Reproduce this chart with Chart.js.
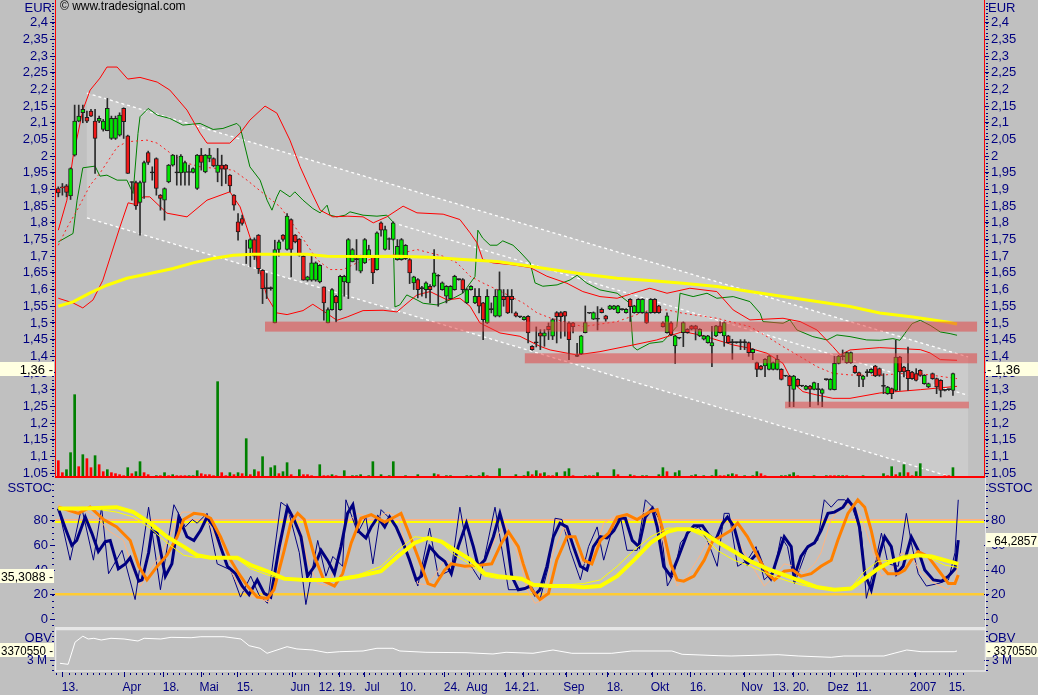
<!DOCTYPE html>
<html>
<head>
<meta charset="utf-8">
<script src="https://cdn.jsdelivr.net/npm/chart.js@4.4.0/dist/chart.umd.min.js"></script>
<style>
  body { margin: 0; background: #c0c0c0; width: 1038px; height: 695px; overflow: hidden; position: relative; }
  canvas { position: absolute; left: 0; }
</style>
</head>
<body>
<canvas id="mainChart" width="1038" height="478" style="top:0"></canvas>
<canvas id="stochChart" width="1038" height="151" style="top:478px"></canvas>
<canvas id="obvChart" width="1038" height="66" style="top:629px"></canvas>
<script>
// daily candles, bar index 0 = 13. Mrz 2006
const priceOpen = [
  1.903,1.908,1.911,1.881,2.003,2.105,2.130,2.116,2.135,2.105, 2.105,2.080,2.076,2.053,2.053,2.063,2.143,2.061,1.921,1.921,
  1.861,1.921,2.011,1.950,1.993,1.883,1.868,1.923,1.973,1.950, 1.950,1.951,1.951,1.951,1.903,2.003,1.953,1.993,1.993,1.951,
  1.973,1.973,1.943,1.883,1.803,1.813,1.703,1.723,1.750,1.763, 1.658,1.603,1.603,1.500,1.720,1.763,1.720,1.810,1.763,1.751,
  1.700,1.628,1.628,1.628,1.623,1.608,1.500,1.540,1.580,1.540, 1.623,1.620,1.683,1.690,1.655,1.680,1.700,1.700,1.660,1.800,
  1.720,1.750,1.750,1.690,1.690,1.693,1.690,1.620,1.630,1.603, 1.600,1.610,1.610,1.640,1.600,1.580,1.573,1.600,1.630,1.630,
  1.560,1.600,1.560,1.580,1.560,1.500,1.540,1.520,1.520,1.580, 1.580,1.580,1.530,1.518,1.510,1.520,1.430,1.440,1.470,1.460,
  1.490,1.460,1.531,1.531,1.534,1.500,1.500,1.400,1.407,1.471, 1.529,1.511,1.511,1.541,1.521,1.541,1.541,1.531,1.540,1.531,
  1.571,1.531,1.531,1.531,1.531,1.531,1.571,1.551,1.500,1.471, 1.500,1.431,1.454,1.471,1.481,1.491,1.491,1.461,1.451,1.441,
  1.431,1.461,1.491,1.461,1.461,1.441,1.441,1.441,1.441,1.441, 1.411,1.381,1.371,1.371,1.361,1.361,1.361,1.361,1.341,1.341,
  1.301,1.331,1.311,1.301,1.311,1.301,1.300,1.289,1.330,1.301, 1.300,1.379,1.399,1.381,1.381,1.371,1.351,1.331,1.351,1.351,
  1.371,1.363,1.310,1.288,1.303,1.298,1.398,1.368,1.358,1.353, 1.348,1.358,1.318,1.308,1.348,1.333,1.328,1.298,1.300,1.298
];
const priceHigh = [
  1.908,1.918,1.915,1.965,2.153,2.153,2.153,2.135,2.140,2.140, 2.120,2.110,2.173,2.120,2.120,2.130,2.145,2.063,1.923,1.925,
  1.925,1.985,2.015,1.968,1.995,1.885,1.905,1.975,2.005,2.003, 2.005,1.985,1.973,1.965,2.005,2.023,2.005,2.023,1.995,2.023,
  2.003,1.975,1.945,1.885,1.828,1.823,1.748,1.753,1.755,1.765, 1.660,1.648,1.608,1.748,1.748,1.765,1.828,1.812,1.765,1.753,
  1.703,1.640,1.700,1.683,1.675,1.608,1.545,1.603,1.583,1.643, 1.643,1.753,1.723,1.750,1.703,1.753,1.733,1.703,1.773,1.803,
  1.790,1.755,1.803,1.750,1.753,1.735,1.693,1.640,1.633,1.610, 1.623,1.615,1.720,1.645,1.623,1.612,1.612,1.643,1.632,1.633,
  1.603,1.612,1.603,1.603,1.562,1.600,1.560,1.600,1.653,1.600, 1.600,1.600,1.533,1.520,1.520,1.522,1.432,1.488,1.480,1.480,
  1.500,1.513,1.534,1.534,1.535,1.503,1.502,1.439,1.463,1.551, 1.530,1.533,1.549,1.545,1.523,1.553,1.553,1.553,1.542,1.543,
  1.573,1.553,1.573,1.573,1.533,1.573,1.573,1.553,1.503,1.530, 1.503,1.463,1.456,1.503,1.483,1.493,1.493,1.483,1.463,1.463,
  1.490,1.493,1.503,1.503,1.463,1.451,1.443,1.450,1.450,1.443, 1.423,1.383,1.373,1.393,1.403,1.383,1.403,1.363,1.343,1.343,
  1.343,1.333,1.313,1.313,1.313,1.323,1.319,1.303,1.332,1.333, 1.400,1.403,1.419,1.413,1.413,1.373,1.353,1.343,1.360,1.363,
  1.373,1.365,1.348,1.310,1.305,1.448,1.400,1.370,1.428,1.355, 1.363,1.360,1.345,1.320,1.350,1.335,1.330,1.300,1.302,1.350
];
const priceLow = [
  1.878,1.883,1.878,1.870,2.000,2.103,2.100,2.100,2.118,1.948, 2.100,2.075,2.076,2.050,2.050,2.060,2.053,1.948,1.868,1.840,
  1.763,1.873,1.975,1.928,1.883,1.838,1.808,1.920,1.970,1.913, 1.913,1.913,1.913,1.950,1.900,1.958,1.950,1.983,1.968,1.923,
  1.911,1.918,1.893,1.838,1.748,1.793,1.678,1.668,1.690,1.648, 1.558,1.573,1.598,1.500,1.700,1.745,1.718,1.638,1.740,1.700,
  1.628,1.625,1.625,1.625,1.620,1.508,1.500,1.538,1.503,1.538, 1.580,1.573,1.683,1.658,1.650,1.678,1.698,1.618,1.658,1.760,
  1.718,1.720,1.748,1.688,1.688,1.690,1.618,1.600,1.575,1.580, 1.575,1.560,1.608,1.550,1.598,1.560,1.570,1.598,1.628,1.590,
  1.558,1.598,1.558,1.530,1.450,1.498,1.530,1.518,1.518,1.550, 1.528,1.530,1.518,1.516,1.508,1.440,1.418,1.428,1.420,1.430,
  1.450,1.450,1.440,1.454,1.460,1.390,1.470,1.399,1.405,1.470, 1.528,1.510,1.479,1.530,1.505,1.540,1.540,1.529,1.538,1.529,
  1.504,1.529,1.529,1.529,1.498,1.529,1.529,1.529,1.487,1.469, 1.462,1.379,1.452,1.429,1.469,1.479,1.449,1.459,1.449,1.439,
  1.369,1.459,1.469,1.430,1.439,1.391,1.439,1.420,1.420,1.400, 1.390,1.339,1.359,1.339,1.359,1.359,1.359,1.329,1.339,1.249,
  1.249,1.309,1.309,1.299,1.249,1.299,1.254,1.249,1.328,1.299, 1.299,1.377,1.389,1.379,1.379,1.349,1.309,1.309,1.340,1.349,
  1.339,1.340,1.288,1.286,1.273,1.296,1.298,1.338,1.298,1.331, 1.326,1.340,1.316,1.306,1.331,1.288,1.278,1.296,1.298,1.283
];
const priceClose = [
  1.890,1.905,1.891,1.963,2.105,2.120,2.140,2.105,2.120,2.053, 2.113,2.105,2.143,2.113,2.113,2.123,2.103,1.948,1.921,1.851,
  1.921,1.981,1.981,1.950,1.903,1.873,1.903,1.973,2.003,1.950, 2.000,1.981,1.951,1.963,2.003,1.981,2.003,2.003,1.971,1.973,
  1.961,1.961,1.911,1.853,1.773,1.798,1.703,1.750,1.700,1.663, 1.603,1.603,1.603,1.720,1.743,1.750,1.820,1.720,1.743,1.703,
  1.628,1.638,1.680,1.680,1.673,1.560,1.540,1.600,1.560,1.640, 1.640,1.750,1.720,1.690,1.700,1.750,1.720,1.650,1.770,1.778,
  1.780,1.750,1.800,1.730,1.750,1.733,1.650,1.638,1.600,1.603, 1.620,1.600,1.650,1.640,1.620,1.610,1.610,1.640,1.630,1.600,
  1.600,1.610,1.580,1.550,1.510,1.580,1.540,1.580,1.600,1.570, 1.530,1.570,1.520,1.518,1.518,1.470,1.420,1.440,1.460,1.470,
  1.480,1.510,1.519,1.519,1.520,1.450,1.489,1.400,1.461,1.501, 1.529,1.531,1.511,1.531,1.511,1.551,1.551,1.551,1.540,1.541,
  1.549,1.551,1.571,1.571,1.500,1.571,1.531,1.531,1.489,1.521, 1.464,1.461,1.454,1.501,1.471,1.481,1.481,1.481,1.461,1.461,
  1.441,1.491,1.471,1.501,1.441,1.441,1.441,1.441,1.441,1.411, 1.421,1.361,1.361,1.391,1.401,1.381,1.391,1.331,1.341,1.311,
  1.341,1.311,1.311,1.311,1.301,1.321,1.300,1.300,1.330,1.331, 1.379,1.401,1.399,1.411,1.411,1.351,1.341,1.341,1.351,1.361,
  1.341,1.343,1.310,1.308,1.288,1.398,1.353,1.353,1.333,1.333, 1.328,1.343,1.343,1.318,1.333,1.308,1.298,1.298,1.300,1.348
];
// volume per bar and whether it counted as up (u) or down (d) volume
const volume = [
  49,13,22,73,247,31,67,55,28,64, 37,16,22,13,10,7,4,28,10,16, 46,13,7,0,4,4,13,4,7,4, 4,4,4,4,19,10,7,7,4,286,
  13,4,13,7,13,10,115,7,22,16, 61,0,28,34,10,16,43,7,0,22, 7,7,4,0,37,4,4,7,4,0, 19,0,4,4,7,0,4,46,0,7,
  0,4,46,0,0,4,0,0,7,0, 0,0,10,7,0,4,4,0,0,0, 4,4,0,4,13,4,0,0,25,0, 0,0,7,0,4,16,7,19,10,13,
  4,4,13,0,16,25,4,0,0,4, 4,4,13,0,0,0,22,7,0,0, 7,4,0,4,4,0,0,7,28,16, 0,13,19,0,0,4,7,0,4,0,
  4,22,4,4,7,10,7,0,4,0, 4,16,10,4,0,0,0,4,4,7, 13,4,0,0,0,4,0,0,4,4, 4,4,4,4,0,0,0,4,0,0,
  0,0,10,4,31,7,13,37,13,4, 16,40,0,0,0,0,0,4,4,28
];
const volDir = 'dduuududdu' + 'dduddddudu' + 'udduududud' + 'dduuuddddu' + 'ddudududud' +
  'uuuuduuduu' + 'ddduuddudu' + 'uuuuuuuuuu' + 'uuuuuuuuuu' + 'uuuduuuuuu' +
  'uuuuuduuuu' + 'uuuuuududu' + 'dduuuuduuu' + 'duuuuuuduu' + 'uduuuuuuud' +
  'uuuuuuuuuu' + 'uudduuduuu' + 'uudduuuuuu' + 'uduuuuuuud' + 'duuduuuuuu' +
  'uuududuudd' + 'uuuuuuuddu';

// indicator lines: [bar index, value]
const bbUpper = [[0,1.778],[2.1,1.868],[3.6,1.997],[6,2.138],[7.8,2.198],[10.2,2.234],[11.9,2.267],[14.4,2.267],[17,2.231],[20,2.236],[24.2,2.222],[27.3,2.198],[31.5,2.138],[34.7,2.069],[36.4,2.039],[42,2.039],[44.5,2.069],[46.9,2.108],[50.6,2.15],[53.5,2.129],[56.7,2.048],[59.2,1.968],[62.1,1.889],[64.1,1.838],[67.2,1.818],[70.7,1.82],[74.6,1.818],[77.1,1.80],[80.4,1.818],[84.4,1.85],[87.8,1.83],[94.2,1.826],[98.3,1.81],[100.8,1.77],[102.5,1.74],[103.9,1.69],[106.4,1.68],[111.3,1.674],[115.5,1.666],[119.6,1.64],[124.5,1.619],[128.4,1.594],[132.6,1.579],[136.8,1.574],[140.7,1.589],[144.8,1.604],[149,1.589],[154.6,1.604],[161.2,1.594],[165.2,1.539],[169.3,1.509],[177.4,1.514],[181.6,1.504],[185.7,1.479],[189.6,1.429],[191.4,1.404],[193.8,1.419],[201.1,1.426],[211,1.42],[213.4,1.41],[215.9,1.39],[220,1.388]];
const bbMid = [[0,1.733],[2.1,1.785],[4.6,1.838],[7.8,1.913],[10.2,1.949],[14.4,2.027],[16.8,2.043],[21.7,2.048],[24.2,2.039],[28.1,2.003],[31.5,1.979],[34.7,1.968],[42.8,1.958],[46.2,1.928],[50.1,1.889],[54.3,1.848],[58.4,1.78],[63.3,1.69],[66.5,1.66],[69.7,1.66],[73.1,1.68],[76.3,1.69],[80.4,1.70],[84.4,1.71],[87.8,1.72],[91,1.71],[94.2,1.70],[97.6,1.68],[100.8,1.64],[103.9,1.62],[107.4,1.60],[110.6,1.58],[113.8,1.56],[117.2,1.53],[120.4,1.515],[128.4,1.489],[136.8,1.504],[144.8,1.539],[149,1.539],[152.9,1.529],[161.2,1.514],[169.3,1.489],[173.5,1.459],[177.4,1.429],[181.6,1.399],[185.7,1.369],[189.6,1.349],[193.8,1.344],[201.1,1.343],[206,1.348],[211,1.348],[220,1.333]];
const bbLower = [[0,1.574],[3.6,1.56],[6,1.545],[8.5,1.569],[10.9,1.628],[15.1,1.788],[17.1,1.86],[19.3,1.854],[20.7,1.878],[22.4,1.878],[26.6,1.829],[31.5,1.818],[36.4,1.868],[42,1.893],[44.5,1.848],[47.7,1.728],[51.1,1.578],[53.5,1.53],[56,1.525],[59.9,1.537],[62.3,1.556],[65.8,1.528],[68.2,1.508],[70.7,1.518],[74.6,1.537],[79.5,1.538],[82.9,1.533],[84.4,1.549],[87.8,1.584],[91,1.594],[95.2,1.569],[98.3,1.574],[100.8,1.55],[103.2,1.50],[108.1,1.47],[113,1.46],[117.9,1.43],[120.4,1.419],[126.9,1.404],[132.6,1.414],[140.7,1.434],[146.5,1.449],[152.9,1.474],[157.1,1.464],[161.2,1.449],[165.2,1.434],[169.3,1.424],[173.5,1.409],[177.4,1.379],[179.9,1.319],[182.3,1.294],[185.7,1.284],[189.6,1.274],[193.8,1.274],[201.1,1.29],[211,1.30],[220,1.31]];
const greenLine = [[0,1.743],[3.6,1.768],[4.6,1.868],[6,1.965],[9,1.97],[10.2,1.94],[11.9,1.943],[14.4,1.928],[16.8,1.928],[18.3,1.888],[19.5,2.068],[20,2.118],[22,2.143],[24.2,2.123],[27.3,2.113],[30.5,2.093],[34.7,2.098],[37.9,2.08],[40.3,2.083],[43.7,2.098],[44.5,2.088],[46.9,1.968],[49.4,1.928],[51.1,1.868],[52.3,1.838],[53.5,1.878],[54.3,1.898],[56.7,1.878],[57.9,1.893],[59.9,1.868],[62.3,1.843],[64.1,1.83],[65.8,1.853],[66.5,1.823],[68.2,1.818],[70.2,1.823],[71.4,1.833],[74.6,1.823],[78,1.82],[80.4,1.823],[81.9,1.803],[82.4,1.548],[83.6,1.554],[85.3,1.584],[87.8,1.569],[89.3,1.559],[92.7,1.554],[95.9,1.569],[99,1.589],[102,1.639],[102.7,1.778],[103.9,1.754],[105.7,1.733],[107.4,1.733],[108.8,1.746],[111.3,1.733],[113,1.713],[115.5,1.68],[116.7,1.62],[118.6,1.61],[122.1,1.614],[125.3,1.629],[127,1.643],[129.4,1.619],[132.6,1.599],[136.8,1.589],[139.9,1.559],[140.7,1.429],[141.7,1.419],[144.8,1.439],[148,1.444],[151.4,1.489],[152.2,1.589],[155.4,1.579],[158.8,1.589],[161.2,1.574],[165.2,1.579],[169.3,1.564],[171.8,1.529],[172.5,1.504],[177.4,1.499],[179.1,1.509],[180.8,1.479],[184.7,1.459],[188.2,1.449],[190.6,1.464],[193.8,1.459],[197.9,1.449],[201.1,1.448],[204.3,1.453],[206,1.448],[207.2,1.468],[209,1.498],[211,1.508],[213.4,1.493],[215.9,1.473],[218.3,1.468],[220,1.463]];
const smaLine = [[0,1.55],[3.6,1.563],[7.8,1.59],[11.9,1.613],[16.8,1.634],[22.4,1.648],[28.1,1.663],[33,1.68],[37.9,1.693],[42.8,1.703],[47.7,1.706],[54.3,1.706],[60.9,1.706],[65.8,1.70],[74.6,1.699],[82.9,1.70],[91,1.697],[99,1.69],[107.4,1.684],[115.5,1.67],[120.4,1.661],[128.4,1.647],[136.8,1.634],[144.8,1.627],[152.9,1.619],[161.2,1.609],[169.3,1.594],[177.4,1.579],[185.7,1.564],[193.8,1.549],[201.1,1.53],[209.2,1.518],[217.5,1.503],[220,1.497]];

// trend channel and support zones
const channelTop = [[7.0, 2.189], [222.7, 1.398]];
const channelBottom = [[7.0, 1.815], [222.7, 1.023]];
const channelInner = [[82.0, 1.800], [222.7, 1.283]];
const supportZones = [
  { from: 50.6, to: 224.9, lo: 1.474, hi: 1.504 },
  { from: 114.2, to: 224.9, lo: 1.379, hi: 1.409 },
  { from: 177.9, to: 222.9, lo: 1.244, hi: 1.264 }
];

// slow stochastic
const stochKThin = [[0,91],[2.9,48],[5.7,91],[8.6,48],[10.6,91],[12.3,37],[15.6,56],[18.8,16],[22.1,91],[25,24],[28.3,93],[31.1,75],[32.8,81],[34,78],[36.4,86],[38.9,45],[42.2,40],[44.6,18],[47.1,35],[49.1,20],[51.2,13],[54.5,95],[56.1,91],[59,54],[60.6,12],[63.5,64],[65.5,35],[67.2,51],[69.6,43],[70.4,97],[73.3,70],[75.3,83],[77,45],[79,89],[82.3,78],[84.8,59],[88,27],[90.9,74],[93,35],[96.2,40],[98.3,91],[100.7,45],[103.2,32],[106.9,91],[110.2,24],[113.4,24],[115.5,27],[117.9,16],[120,43],[121.6,82],[123.3,81],[125.3,56],[127.8,32],[129.8,59],[131.9,75],[133.5,48],[136,78],[137.6,83],[139.2,56],[141.7,56],[143.7,97],[145.8,90],[147.4,78],[149.1,27],[150.7,37],[152.3,62],[154.8,72],[156.8,75],[158.9,64],[161.3,43],[163,86],[164.2,86],[166.3,43],[168.7,48],[170.8,59],[172.8,32],[175.3,40],[176.9,67],[178.5,59],[180.2,29],[183.5,59],[185.9,64],[187.5,97],[189.2,91],[190.8,97],[192.5,97],[194.1,93],[196.6,70],[197.8,17],[199.8,43],[201.5,70],[203.1,45],[205.6,43],[207.6,86],[208.8,62],[210.5,37],[212.5,27],[215.4,29],[217.9,32],[219.5,54],[220.3,97]];
const stochKThick = [[0,90],[1.6,75],[3.3,60],[4.5,64],[6.6,83],[8.2,70],[9.8,55],[11.5,63],[12.7,64],[14.7,41],[16.4,45],[17.6,50],[19.7,31],[20.5,32],[22.1,54],[22.9,72],[24.2,70],[26.2,35],[27.8,45],[29.5,83],[31.5,67],[33.2,64],[34.8,72],[36.4,83],[38.1,75],[39.7,59],[41.4,43],[43.4,37],[45,27],[46.7,20],[48.7,32],[50.4,21],[52,18],[54.1,59],[56.1,91],[57.7,81],[59.4,67],[61,35],[62.7,43],[64.3,56],[65.9,48],[67.6,37],[69.2,59],[70.8,86],[72.1,93],[73.3,72],[75.3,66],[76.6,75],[78.2,83],[79.9,75],[81.1,83],[82.7,75],[84.4,62],[86,48],[87.6,32],[88.9,35],[90.9,59],[93,51],[94.6,47],[96.2,37],[97.9,59],[99.9,78],[101.6,59],[102.8,43],[104.4,48],[106.5,67],[108.1,86],[109.7,67],[111,35],[112.6,24],[114.2,25],[115.5,27],[116.7,20],[117.9,24],[119.6,43],[121.2,67],[122.8,78],[124.5,75],[126.1,59],[127.8,43],[129.4,40],[131,59],[132.7,67],[134.3,66],[136,72],[137.6,82],[138.8,82],[140.5,64],[142.1,59],[143.7,83],[145.4,90],[146.6,75],[148.2,43],[149.9,35],[151.5,48],[154,70],[155.6,76],[157.7,76],[159.3,68],[160.9,64],[162.6,78],[163.8,83],[165.4,75],[167.1,54],[168.7,45],[171.2,54],[172.8,40],[174.4,33],[176.1,51],[177.7,67],[179.4,59],[180.2,35],[181.8,51],[183.5,59],[185.1,62],[186.7,72],[188.4,86],[190,87],[192.1,91],[193.3,97],[194.9,90],[196.1,75],[197.4,37],[199,24],[201.1,54],[202.3,67],[203.9,59],[205.2,37],[206.8,43],[208.8,67],[210.5,56],[212.1,40],[214.2,32],[216.2,31],[217.9,35],[219.5,41],[220.3,64.3]];
const stochDThin = [[0,93],[2.9,86],[6.1,89],[9.4,83],[12.3,72],[16,64],[18,43],[20.1,27],[22.5,40],[25.8,56],[28.3,75],[30.3,87],[32.4,87],[35.6,86],[38.1,70],[40.5,51],[43.8,29],[46.3,20],[49.1,17],[51.6,14],[53.6,37],[55.3,78],[56.9,87],[58.6,81],[61,48],[63.5,29],[65.9,27],[68.4,48],[70.4,78],[73.3,86],[77.4,81],[80.7,87],[83.1,83],[85.6,54],[88,29],[90.1,28],[92.1,35],[94.6,48],[97.1,45],[101.1,40],[104.4,48],[106.9,64],[109.3,78],[111.8,59],[113.4,43],[114.7,24],[116.7,13],[118.8,16],[121.2,54],[123.7,75],[126.1,59],[128.6,45],[131,51],[133.5,78],[136,83],[139.2,86],[141.7,82],[144.6,91],[146.6,83],[149.1,48],[151.5,27],[154,35],[156.4,48],[158.9,62],[161.3,67],[163,79],[164.6,78],[167.1,59],[169.5,45],[172.8,27],[175.3,35],[177.7,45],[180.2,43],[182.6,37],[185.1,45],[186.7,54],[189.2,81],[191.6,91],[194.1,94],[196.6,83],[199,59],[201.5,35],[203.9,40],[206.4,54],[208.8,51],[211.3,37],[214.6,29],[217.9,24],[219.5,32],[220.3,45]];
const stochDThick = [[0,91],[2,89],[4.9,86],[7.8,91],[11.1,81],[14.3,75],[17.6,64],[19.7,43],[21.7,32],[24.2,43],[26.6,52],[29.1,67],[30.7,81],[33.2,86],[35.6,85],[37.3,82],[39.7,67],[42.2,48],[44.2,37],[46.3,27],[48.7,18],[51.2,17],[52.8,24],[55.3,56],[56.9,78],[58.6,86],[60.2,81],[62.7,51],[65.1,31],[67.6,27],[69.6,37],[71.7,62],[74.1,82],[76.6,85],[79.9,79],[82.3,83],[83.9,86],[85.6,72],[88,51],[90.5,29],[92.1,27],[94.6,40],[96.2,45],[99.5,43],[103.6,44],[106.1,45],[108.5,62],[110.2,71],[112.6,59],[113.8,45],[115.9,24],[117.9,16],[120,21],[122,48],[124.5,67],[126.5,67],[128.6,48],[130.6,45],[132.7,64],[134.7,70],[136.8,83],[139.2,85],[141.7,81],[144.6,87],[146.6,89],[148.2,70],[149.9,45],[151.5,32],[153.1,31],[155.6,35],[158.1,48],[160.1,63],[162.6,68],[164.6,72],[166.3,78],[168.7,67],[171.2,51],[173.6,37],[175.3,32],[177.7,39],[179.8,40],[181.8,35],[184.3,37],[186.7,43],[189.2,48],[190.8,64],[193.3,86],[195.7,97],[197.4,91],[199,72],[200.2,54],[201.5,43],[203.1,37],[205.6,37],[207.2,40],[208.8,48],[210.5,55],[212.9,51],[215.4,40],[217.9,29],[219.5,29],[220.3,36]];
const stochSigThin = [[0,90],[6.1,91],[14.3,87],[18.4,83],[22.5,74],[26.6,62],[30.7,52],[34,50],[37.3,51],[43.8,49],[47.1,41],[51.2,36],[55.3,32],[60.2,32],[67.6,33],[73.3,36],[79,43],[83.1,56],[87.2,67],[90.5,66],[93.8,62],[97.1,52],[101.1,44],[104.4,35],[107.7,33],[113.4,32],[116.3,27],[120.4,27],[124.5,28],[128.6,29],[132.7,32],[136.8,43],[140.9,56],[145,67],[149.1,74],[151.5,74],[154.8,72],[158.1,67],[161.3,56],[165.4,48],[169.5,43],[173.6,37],[177.7,32],[181.8,28],[185.9,25],[190,24],[194.1,26],[197.4,39],[200.6,47],[203.9,48],[207.2,52],[210.5,53],[213.8,49],[217,44],[220.3,42]];
const stochSigThick = [[0,90],[6.1,90],[14.3,91],[18.4,87],[22.5,78],[26.6,67],[30.7,59],[34,52],[37.3,50],[43.8,50],[47.1,44],[51.2,39],[55.3,33],[60.2,32],[67.6,32],[73.3,35],[79,39],[83.1,51],[87.2,62],[90.5,66],[93.8,63],[97.1,56],[101.1,48],[104.4,37],[107.7,35],[113.4,33],[116.3,28],[120.4,27],[124.5,27],[128.6,26],[132.7,27],[136.8,35],[140.9,48],[145,62],[149.1,71],[151.5,73],[154.8,73],[158.1,70],[161.3,63],[165.4,55],[169.5,47],[173.6,41],[177.7,36],[181.8,31],[185.9,26],[190,24],[194.1,25],[197.4,33],[200.6,41],[203.9,47],[207.2,50],[210.5,52],[213.8,51],[217,48],[220.3,45]];
const stochLevels = [20, 80];

// on balance volume
const obvLine = [[0.4,2864000],[2.4,2823000],[4.1,3735000],[6,3980000],[7.3,3865000],[8.7,3893000],[10.5,3823000],[12.9,3893000],[16.1,3865000],[19.5,3782000],[21,3893000],[25.1,3865000],[27.6,3934000],[32.5,3918000],[34.9,3959000],[40.6,3959000],[44.7,3865000],[46.7,3589000],[49.4,3482000],[51.1,3276000],[56,3548000],[58.4,3455000],[62.3,3412000],[65.8,3301000],[68.9,3342000],[74.6,3371000],[78,3482000],[81.9,3482000],[83.6,3371000],[90,3317000],[99.8,3301000],[106.4,3248000],[109.6,3317000],[116.2,3276000],[121.1,3412000],[125.7,3276000],[135.5,3276000],[140.4,3371000],[150.2,3371000],[152.7,3235000],[161.5,3178000],[164.7,3165000],[176.2,3219000],[181.1,3165000],[189.2,3111000],[192.3,3165000],[202.1,3165000],[204.6,3276000],[207.7,3412000],[211.2,3342000],[219.3,3342000],[220,3370550]];

// axes
const priceTicks = [2.4,2.35,2.3,2.25,2.2,2.15,2.1,2.05,2,1.95,1.9,1.85,1.8,1.75,1.7,1.65,1.6,1.55,1.5,1.45,1.4,1.35,1.3,1.25,1.2,1.15,1.1,1.05];
const stochTicks = [0, 20, 40, 60, 80];
const obvTicks = [3000000];
const obvTickLabel = '3 M';
const xTickPos = [2.9,18.0,27.6,36.9,45.7,59.2,65.8,70.7,76.8,85.6,96.4,102.5,111.3,115.7,126.2,136.3,147.3,156.6,169.8,176.9,181.8,190.9,197.2,211.7,220.0];
const xTickLabels = ['13.','Apr','18.','Mai','15.','Jun','12.','19.','Jul','10.','24.','Aug','14.','21.','Sep','18.','Okt','16.','Nov','13.','20.','Dez','11.','2007','15.'];
const lastPrice = '1,36';
const lastStochLeft = '35,3088';
const lastStochRight = '64,2857';
const lastObv = '3370550';

const X_MIN = -0.81, X_MAX = 226.6;
const NAVY = '#000080';
const FONT = '"Liberation Sans", Arial, sans-serif';
Chart.defaults.font.family = FONT;
Chart.defaults.font.size = 13;
Chart.defaults.color = NAVY;

const pts = arr => arr.map(p => ({ x: p[0], y: p[1] }));
const fmtPrice = v => v.toFixed(2).replace(/0+$/, '').replace(/\.$/, '').replace('.', ',');

function xAxis(show) {
  const ax = {
    type: 'linear', min: X_MIN, max: X_MAX, display: show, offset: false,
    afterBuildTicks(s) { s.ticks = xTickPos.map(v => ({ value: v })); },
    ticks: { autoSkip: false, maxRotation: 0, padding: 9, color: NAVY, font: { size: 12 },
             callback: (v, i) => xTickLabels[i] },
    grid: { display: false, drawTicks: false },
    border: { display: false }
  };
  if (show) ax.afterFit = s => { s.height = 24; s.paddingLeft = 0; s.paddingRight = 0; };
  return ax;
}

function sideAxis(pos, min, max, ticks, fmt) {
  return {
    type: 'linear', position: pos, min: min, max: max,
    afterFit(s) { s.width = pos === 'left' ? 55 : 54; s.paddingTop = 0; s.paddingBottom = 0; },
    afterBuildTicks(s) { s.ticks = ticks.map(v => ({ value: v })); },
    ticks: { autoSkip: false, padding: 2, color: NAVY, callback: fmt },
    grid: { drawOnChartArea: false, tickLength: 5, color: NAVY },
    border: { display: false }
  };
}

function lineSet(data, color, width, extra) {
  return Object.assign({ type: 'line', data: pts(data), borderColor: color, borderWidth: width,
    pointRadius: 0, tension: 0, fill: false }, extra || {});
}

function fitText(ctx, text, x, y, maxW, align) {
  const w = ctx.measureText(text).width;
  ctx.save();
  ctx.translate(x, y);
  if (w > maxW) ctx.scale(maxW / w, 1);
  ctx.textAlign = align;
  ctx.fillText(text, 0, 0);
  ctx.restore();
}

function valueBox(ctx, text, side, cy) {
  ctx.save();
  ctx.font = '13px ' + FONT;
  ctx.textBaseline = 'middle';
  ctx.fillStyle = '#ffffe1';
  if (side === 'left') {
    ctx.fillRect(0, cy - 7, 54, 14);
    ctx.fillStyle = '#000';
    fitText(ctx, text + ' -', 53, cy + 1, 52, 'right');
  } else {
    ctx.fillRect(986, cy - 7, 52, 14);
    ctx.fillStyle = '#000';
    fitText(ctx, '- ' + text, 987, cy + 1, 50, 'left');
  }
  ctx.restore();
}

function sideText(ctx, text, cy, size) {
  ctx.save();
  ctx.font = (size || 13) + 'px ' + FONT;
  ctx.fillStyle = NAVY;
  ctx.textBaseline = 'middle';
  ctx.textAlign = 'right';
  ctx.fillText(text, 52, cy);
  ctx.textAlign = 'left';
  ctx.fillText(text, 988, cy);
  ctx.restore();
}

function minorDots(ctx, scale, from, to, step) {
  ctx.save();
  ctx.fillStyle = NAVY;
  for (let v = from; v <= to + 1e-9; v += step) {
    const y = Math.round(scale.getPixelForValue(v));
    if (y < 0 || y > ctx.canvas.height) continue;
    ctx.fillRect(52, y, 2, 1);
    ctx.fillRect(986, y, 2, 1);
  }
  ctx.restore();
}

const chartBase = {
  responsive: false, animation: false, events: [], devicePixelRatio: 1,
  plugins: { legend: { display: false }, tooltip: { enabled: false } }
};

// ---------- price panel ----------
const P_MIN = 1.0382, P_MAX = 2.468;
const mainDeco = {
  id: 'mainDeco',
  beforeDatasetsDraw(chart) {
    const ctx = chart.ctx, a = chart.chartArea, x = chart.scales.x, y = chart.scales.y;
    const P = p => [x.getPixelForValue(p[0]), y.getPixelForValue(p[1])];
    ctx.save();
    ctx.beginPath(); ctx.rect(a.left, a.top, a.right - a.left, a.bottom - a.top); ctx.clip();
    const t0 = P(channelTop[0]), t1 = P(channelTop[1]), b0 = P(channelBottom[0]), b1 = P(channelBottom[1]);
    ctx.fillStyle = '#cbcbcb';
    ctx.beginPath();
    ctx.moveTo(t0[0], t0[1]); ctx.lineTo(t1[0], t1[1]); ctx.lineTo(b1[0], b1[1]); ctx.lineTo(b0[0], b0[1]);
    ctx.closePath(); ctx.fill();
    ctx.strokeStyle = '#ffffff'; ctx.lineWidth = 1.3; ctx.setLineDash([3, 3]);
    [channelTop, channelBottom, channelInner].forEach(l => {
      const s = P(l[0]), e = P(l[1]);
      ctx.beginPath(); ctx.moveTo(s[0], s[1]); ctx.lineTo(e[0], e[1]); ctx.stroke();
    });
    ctx.restore();
  },
  afterDatasetsDraw(chart) {
    const ctx = chart.ctx, x = chart.scales.x, y = chart.scales.y;
    ctx.save();
    ctx.fillStyle = 'rgba(228,64,64,0.52)';
    supportZones.forEach(z => {
      const l = x.getPixelForValue(z.from), r = x.getPixelForValue(z.to);
      const t = y.getPixelForValue(z.hi), b = y.getPixelForValue(z.lo);
      ctx.fillRect(l, t, r - l, b - t);
    });
    ctx.restore();
  },
  afterDraw(chart) {
    const ctx = chart.ctx;
    ctx.save();
    ctx.fillStyle = '#ff0000';
    ctx.fillRect(55, 0, 1, 478);
    ctx.fillRect(984, 0, 1, 478);
    ctx.fillRect(55, 476, 930, 2);
    ctx.restore();
    minorDots(ctx, chart.scales.y, 1.04, 2.46, 0.01);
    sideText(ctx, 'EUR', 8);
    ctx.save();
    ctx.font = '12px ' + FONT;
    ctx.fillStyle = '#000';
    ctx.textBaseline = 'middle';
    ctx.fillText('\u00A9 www.tradesignal.com', 60, 7);
    ctx.restore();
    valueBox(ctx, lastPrice, 'left', 369);
    valueBox(ctx, lastPrice, 'right', 369);
  }
};

new Chart(document.getElementById('mainChart'), {
  type: 'bar',
  data: {
    datasets: [
      { type: 'bar', yAxisID: 'yv', grouped: false, order: 20, barThickness: 2,
        data: volume.map((v, i) => ({ x: i, y: v })),
        backgroundColor: volume.map((v, i) => volDir[i] === 'u' ? '#008000' : '#ff0000') },
      lineSet(bbUpper, '#ff0000', 1, { order: 6 }),
      lineSet(bbLower, '#ff0000', 1, { order: 6 }),
      lineSet(bbMid, '#ff2020', 1, { order: 6, borderDash: [2, 3] }),
      lineSet(greenLine, '#008000', 1, { order: 6 }),
      { type: 'bar', grouped: false, order: 4, barThickness: 1,
        data: priceLow.map((l, i) => ({ x: i, y: [l, priceHigh[i]] })),
        backgroundColor: '#2a2a2a' },
      { type: 'bar', grouped: false, order: 3, barThickness: 4, borderWidth: 1, borderSkipped: false,
        borderColor: '#1e1e1e',
        data: priceOpen.map((o, i) => ({ x: i, y: [o, priceClose[i] === o ? o + 0.003 : priceClose[i]] })),
        backgroundColor: priceOpen.map((o, i) => priceClose[i] > o ? '#00e600' : (priceClose[i] < o ? '#f01818' : '#1e1e1e')) },
      lineSet(smaLine, '#ffff00', 3, { order: 1 })
    ]
  },
  options: Object.assign({}, chartBase, {
    layout: { padding: { top: 0, bottom: 1, left: 0, right: 0 } },
    scales: {
      x: xAxis(false),
      y: sideAxis('left', P_MIN, P_MAX, priceTicks, fmtPrice),
      yR: sideAxis('right', P_MIN, P_MAX, priceTicks, fmtPrice),
      yv: { type: 'linear', display: false, min: 0, max: 1431 }
    }
  }),
  plugins: [mainDeco]
});

// ---------- SSTOC panel ----------
const S_MIN = -7.06, S_MAX = 113.88;
const stochDeco = {
  id: 'stochDeco',
  beforeDatasetsDraw(chart) {
    const ctx = chart.ctx, a = chart.chartArea, y = chart.scales.y;
    ctx.save();
    ctx.fillStyle = '#ffb080';
    ctx.fillRect(a.left, Math.round(y.getPixelForValue(stochLevels[1] + 0.8)) - 1, a.right - a.left, 1.5);
    ctx.fillStyle = '#ffff00';
    ctx.fillRect(a.left, Math.round(y.getPixelForValue(stochLevels[1] - 1.4)) - 1, a.right - a.left, 2);
    ctx.fillStyle = '#ffcc33';
    ctx.fillRect(a.left, Math.round(y.getPixelForValue(stochLevels[0] + 0.7)) - 1, a.right - a.left, 2.5);
    ctx.restore();
  },
  afterDraw(chart) {
    const ctx = chart.ctx;
    ctx.save();
    ctx.fillStyle = '#e6e6e6';
    ctx.fillRect(985, 0, 1, 151);
    ctx.fillRect(55, 149, 931, 2);
    ctx.restore();
    minorDots(ctx, chart.scales.y, -5, 110, 5);
    sideText(ctx, 'SSTOC', 10);
    valueBox(ctx, lastStochLeft, 'left', 98);
    valueBox(ctx, lastStochRight, 'right', 62);
  }
};

new Chart(document.getElementById('stochChart'), {
  type: 'line',
  data: {
    datasets: [
      lineSet(stochSigThick, '#ffff00', 4, { order: 1 }),
      lineSet(stochSigThin, '#ffff00', 1, { order: 2 }),
      lineSet(stochDThick, '#ff8000', 3, { order: 3 }),
      lineSet(stochKThick, '#000080', 3, { order: 4 }),
      lineSet(stochDThin, '#ffb480', 1, { order: 5 }),
      lineSet(stochKThin, '#000080', 1, { order: 6 })
    ]
  },
  options: Object.assign({}, chartBase, {
    layout: { padding: { top: 1, bottom: 1, left: 0, right: 0 } },
    scales: {
      x: xAxis(false),
      y: sideAxis('left', S_MIN, S_MAX, stochTicks, v => String(v)),
      yR: sideAxis('right', S_MIN, S_MAX, stochTicks, v => String(v))
    }
  }),
  plugins: [stochDeco]
});

// ---------- OBV panel + date axis ----------
const O_MIN = 2547110, O_MAX = 4235162;
const obvDeco = {
  id: 'obvDeco',
  afterDraw(chart) {
    const ctx = chart.ctx, x = chart.scales.x, y = chart.scales.y;
    ctx.save();
    ctx.strokeStyle = '#e6e6e6';
    ctx.lineWidth = 1.5;
    ctx.strokeRect(55.5, 0.5, 930, 41.5);
    ctx.fillStyle = NAVY;
    for (let i = -0.5; i <= 222; i += 1.5) {
      ctx.fillRect(Math.round(x.getPixelForValue(i)), 44, 1, 2);
    }
    xTickPos.forEach(v => ctx.fillRect(Math.round(x.getPixelForValue(v)) - 8, 43, 1, 5));
    for (let v = 2600000; v <= 4200000; v += 200000) {
      const yy = Math.round(y.getPixelForValue(v));
      ctx.fillRect(52, yy, 2, 1);
      ctx.fillRect(986, yy, 2, 1);
    }
    ctx.restore();
    sideText(ctx, 'OBV', 9);
    valueBox(ctx, lastObv, 'left', 21);
    valueBox(ctx, lastObv, 'right', 21);
    // tick label drawn after the value boxes so it stays readable
    ctx.save();
    ctx.font = '12px ' + FONT;
    ctx.fillStyle = NAVY;
    ctx.textBaseline = 'middle';
    obvTicks.forEach(v => {
      const yy = y.getPixelForValue(v) + 1;
      ctx.textAlign = 'right';
      ctx.fillText(obvTickLabel, 47, yy);
      ctx.textAlign = 'left';
      ctx.fillText(obvTickLabel, 992, yy);
    });
    ctx.restore();
  }
};

new Chart(document.getElementById('obvChart'), {
  type: 'line',
  data: { datasets: [ lineSet(obvLine, '#ffffff', 1) ] },
  options: Object.assign({}, chartBase, {
    layout: { padding: { top: 1, bottom: 0, left: 0, right: 0 } },
    scales: {
      x: xAxis(true),
      y: sideAxis('left', O_MIN, O_MAX, obvTicks, () => ''),
      yR: sideAxis('right', O_MIN, O_MAX, obvTicks, () => '')
    }
  }),
  plugins: [obvDeco]
});
</script>
</body>
</html>
